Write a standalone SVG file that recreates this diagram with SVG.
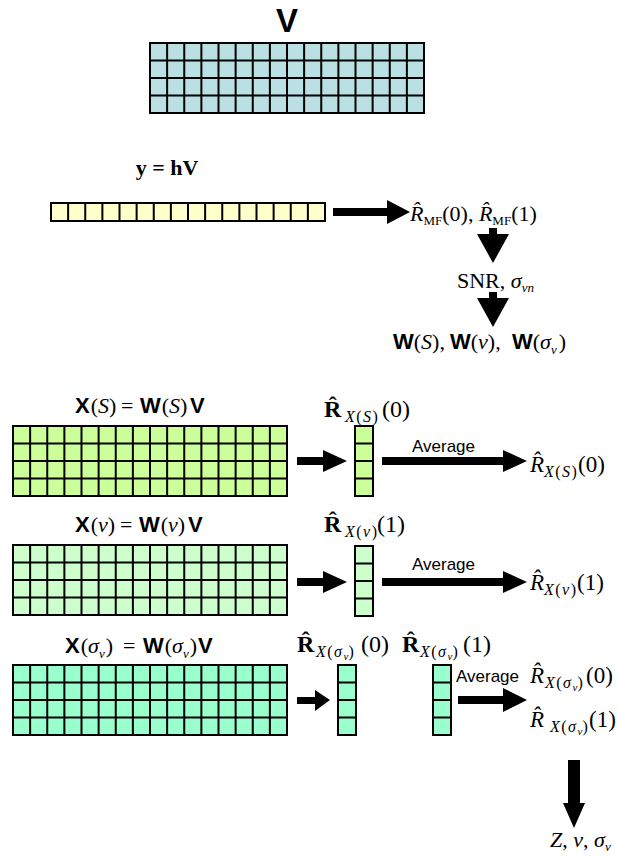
<svg xmlns="http://www.w3.org/2000/svg" xmlns:xlink="http://www.w3.org/1999/xlink" width="618" height="860" viewBox="0 0 618 860">
<style>
.m{font-family:"Liberation Serif","Times New Roman",serif;font-size:22px;fill:#000}
.L{font-size:24px}
.R{font-size:23px}
.i{font-style:italic}
.b{font-weight:bold}
.sb{font-family:"Liberation Sans",Arial,sans-serif;font-weight:bold}
.sub{font-size:16px;letter-spacing:1.5px}
.sub2{font-size:11px;font-style:italic;letter-spacing:0}
.s13{font-size:13px}
.avg{font-family:"Liberation Sans",Arial,sans-serif;font-size:17px;fill:#000}
.gl{fill:none;stroke:#000;stroke-width:2}
.arr{fill:#000;stroke:none}
</style>
<defs>
<path id="g16x4" d="M0 0H274V70H0ZM17.125 0V70M34.25 0V70M51.375 0V70M68.5 0V70M85.625 0V70M102.75 0V70M119.875 0V70M137 0V70M154.125 0V70M171.25 0V70M188.375 0V70M205.5 0V70M222.625 0V70M239.75 0V70M256.875 0V70M0 17.5H274M0 35H274M0 52.5H274"/>
<path id="g16x1" d="M0 0H274V18H0ZM17.125 0V18M34.25 0V18M51.375 0V18M68.5 0V18M85.625 0V18M102.75 0V18M119.875 0V18M137 0V18M154.125 0V18M171.25 0V18M188.375 0V18M205.5 0V18M222.625 0V18M239.75 0V18M256.875 0V18"/>
<path id="g1x4" d="M0 0H18V70H0ZM0 17.5H18M0 35H18M0 52.5H18"/>
</defs>

<g id="matrixV">
<rect x="150" y="43" width="274" height="70" fill="#BBE0E3"/>
<use xlink:href="#g16x4" x="150" y="43" class="gl"/>
<text x="287" y="32" text-anchor="middle" class="sb" font-size="33">V</text>
</g>

<g id="vectorY">
<text x="167" y="175" text-anchor="middle" class="m b" font-size="21">y = hV</text>
<rect x="51" y="203" width="274" height="18" fill="#FFFFCC"/>
<use xlink:href="#g16x1" x="51" y="203" class="gl"/>
</g>

<g id="rmf">
<text x="410" y="221" class="m" font-size="21"><tspan class="i">R̂</tspan><tspan class="s13" dy="4">MF</tspan><tspan dy="-4">(0), </tspan><tspan class="i">R̂</tspan><tspan class="s13" dy="4">MF</tspan><tspan dy="-4">(1)</tspan></text>
</g>

<g id="snr">
<text x="457" y="288" class="m" font-size="21">SNR, <tspan class="i">σ</tspan><tspan class="s13 i" dy="4">vn</tspan></text>
</g>

<g id="weights">
<text y="349" class="m"><tspan x="393" class="sb">W</tspan>(<tspan class="i">S</tspan>),<tspan x="450" class="sb">W</tspan>(<tspan class="i">v</tspan>),<tspan x="512" class="sb">W</tspan>(<tspan class="i">σ</tspan><tspan class="s13 i" dy="5">v</tspan><tspan dy="-5" dx="2">)</tspan></text>
</g>

<g id="matrixXS">
<text y="413" class="m"><tspan x="75" class="sb">X</tspan><tspan dx="1">(</tspan><tspan class="i">S</tspan>)<tspan x="121">=</tspan><tspan x="140" class="sb">W</tspan><tspan dx="1">(</tspan><tspan class="i">S</tspan>)<tspan x="190" class="sb">V</tspan></text>
<rect x="13" y="426" width="274" height="70" fill="#CCFF99"/>
<use xlink:href="#g16x4" x="13" y="426" class="gl"/>
</g>

<g id="colXS">
<text y="417" class="m L"><tspan x="324" class="b">R̂</tspan><tspan x="345" dy="5" class="sub"><tspan class="i">X</tspan>(<tspan class="i">S</tspan>)</tspan><tspan x="382" dy="-5">(0)</tspan></text>
<rect x="355" y="426" width="18" height="70" fill="#CCFF99"/>
<use xlink:href="#g1x4" x="355" y="426" class="gl"/>
</g>

<g id="avgXS">
<text y="472" class="m R"><tspan x="530" class="i">R̂</tspan><tspan x="544" dy="5" class="sub"><tspan class="i">X</tspan>(<tspan class="i">S</tspan>)</tspan><tspan x="578" dy="-5">(0)</tspan></text>
</g>

<g id="matrixXv">
<text y="532" class="m"><tspan x="75" class="sb">X</tspan><tspan dx="1">(</tspan><tspan class="i">v</tspan>)<tspan x="120">=</tspan><tspan x="139" class="sb">W</tspan><tspan dx="1">(</tspan><tspan class="i">v</tspan>)<tspan x="188" class="sb">V</tspan></text>
<rect x="13" y="545" width="274" height="70" fill="#CCFFCC"/>
<use xlink:href="#g16x4" x="13" y="545" class="gl"/>
</g>

<g id="colXv">
<text y="532" class="m L"><tspan x="324" class="b">R̂</tspan><tspan x="345" dy="5" class="sub" letter-spacing="0.5"><tspan class="i">X</tspan>(<tspan class="i">v</tspan>)</tspan><tspan x="377" dy="-5">(1)</tspan></text>
<rect x="355" y="546" width="18" height="70" fill="#CCFFCC"/>
<use xlink:href="#g1x4" x="355" y="546" class="gl"/>
</g>

<g id="avgXv">
<text y="590" class="m R"><tspan x="530" class="i">R̂</tspan><tspan x="544" dy="5" class="sub" letter-spacing="0.8"><tspan class="i">X</tspan>(<tspan class="i">v</tspan>)</tspan><tspan x="577" dy="-5">(1)</tspan></text>
</g>

<g id="matrixXsv">
<text y="653" class="m"><tspan x="65" class="sb">X</tspan><tspan dx="1">(</tspan><tspan class="i">σ</tspan><tspan class="s13 i" dy="5">v</tspan><tspan dy="-5" dx="1">)</tspan><tspan x="123">=</tspan><tspan x="143" class="sb">W</tspan><tspan dx="1">(</tspan><tspan class="i">σ</tspan><tspan class="s13 i" dy="5">v</tspan><tspan dy="-5" dx="1">)</tspan><tspan class="sb" dx="1">V</tspan></text>
<rect x="13" y="665" width="274" height="70" fill="#99FFCC"/>
<use xlink:href="#g16x4" x="13" y="665" class="gl"/>
</g>

<g id="colXsv0">
<text y="652" class="m L"><tspan x="297" class="b">R̂</tspan><tspan x="316" dy="5" class="sub"><tspan class="i">X</tspan>(<tspan class="i">σ</tspan><tspan class="sub2" dy="3">v</tspan><tspan dy="-3">)</tspan></tspan><tspan x="361" dy="-5">(0)</tspan></text>
<rect x="338" y="665" width="18" height="70" fill="#99FFCC"/>
<use xlink:href="#g1x4" x="338" y="665" class="gl"/>
</g>

<g id="colXsv1">
<text y="652" class="m L"><tspan x="402" class="b">R̂</tspan><tspan x="420" dy="5" class="sub"><tspan class="i">X</tspan>(<tspan class="i">σ</tspan><tspan class="sub2" dy="3">v</tspan><tspan dy="-3">)</tspan></tspan><tspan x="463" dy="-5">(1)</tspan></text>
<rect x="433" y="665" width="18" height="70" fill="#99FFCC"/>
<use xlink:href="#g1x4" x="433" y="665" class="gl"/>
</g>

<g id="avgXsv">
<text y="683" class="m R"><tspan x="530" class="i">R̂</tspan><tspan x="545" dy="5" class="sub"><tspan class="i">X</tspan>(<tspan class="i">σ</tspan><tspan class="sub2" dy="3">v</tspan><tspan dy="-3">)</tspan></tspan><tspan x="586" dy="-5">(0)</tspan></text>
<text y="727" class="m R"><tspan x="530" class="i">R̂</tspan><tspan x="550" dy="5" class="sub"><tspan class="i">X</tspan>(<tspan class="i">σ</tspan><tspan class="sub2" dy="3">v</tspan><tspan dy="-3">)</tspan></tspan><tspan x="589" dy="-5">(1)</tspan></text>
</g>

<g id="result">
<text x="550" y="847" class="m" font-size="20"><tspan class="i">Z</tspan>, <tspan class="i">v</tspan>, <tspan class="i">σ</tspan><tspan class="s13 i" dy="4">v</tspan></text>
</g>

<g id="connectors">
<polygon class="arr" points="333,208 387,208 387,200 410,212 387,224 387,216 333,216"/>
<polygon class="arr" points="489,228 497,228 497,234 509,234 493,263 477,234 489,234"/>
<polygon class="arr" points="489,292 497,292 497,298 509,298 493,327 477,298 489,298"/>
<polygon class="arr" points="297,457 323,457 323,450 347,461 323,472 323,465 297,465"/>
<polygon class="arr" points="382,457 503,457 503,450 527,461 503,472 503,465 382,465"/>
<polygon class="arr" points="297,578 323,578 323,571 347,582 323,593 323,586 297,586"/>
<polygon class="arr" points="382,578 503,578 503,571 527,582 503,593 503,586 382,586"/>
<polygon class="arr" points="297,697 315,697 315,690 330,700 315,711 315,704 297,704"/>
<polygon class="arr" points="458,696 503,696 503,688 527,700 503,712 503,704 458,704"/>
<polygon class="arr" points="568,760 580,760 580,803 585,803 574,828 563,803 568,803"/>
<text x="412" y="452" class="avg">Average</text>
<text x="412" y="570" class="avg">Average</text>
<text x="456" y="682" class="avg">Average</text>
</g>
</svg>
